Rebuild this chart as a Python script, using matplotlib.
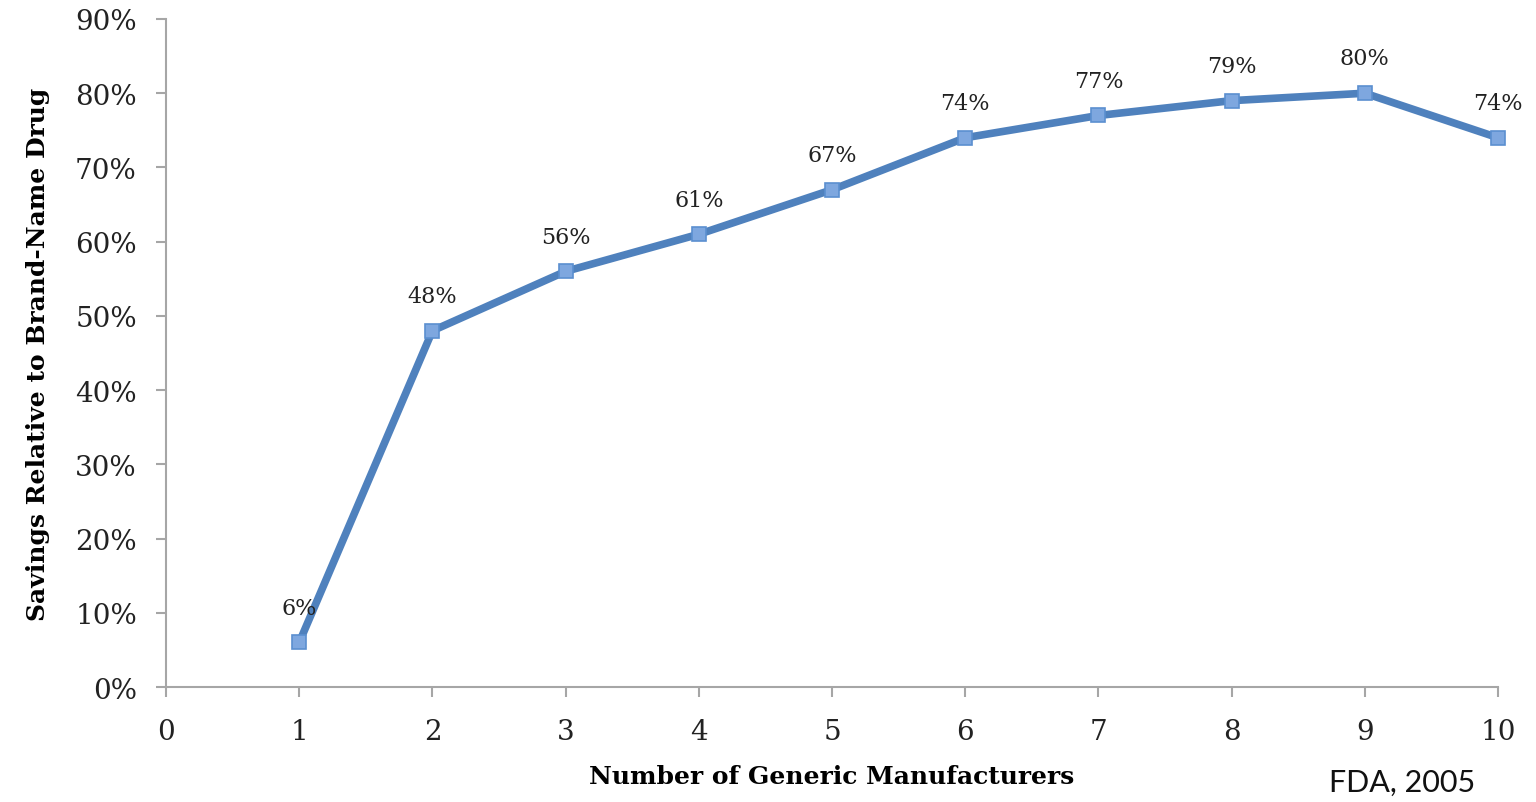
import matplotlib
matplotlib.use("Agg")
import matplotlib.pyplot as plt
from matplotlib.ticker import FuncFormatter

# savings vs number of generic makers (FDA, 2005)
manufacturers = [1, 2, 3, 4, 5, 6, 7, 8, 9, 10]
savings = [6, 48, 56, 61, 67, 74, 77, 79, 80, 74]
source_note = "FDA, 2005"

plt.rcParams['font.family'] = ['DejaVu Serif']

fig = plt.figure(figsize=(15.36, 8.03), dpi=100)
ax = fig.add_axes([0.1081, 0.1432, 0.8672, 0.8319])

line_col = '#4F81BD'
ax.plot(manufacturers, savings, color=line_col, lw=5.5, marker='s', ms=10,
        mfc='#7EA7DF', mec='#5B8FD0', mew=1.2, solid_joinstyle='round', zorder=3,
        clip_on=False)

for x, y in zip(manufacturers, savings):
    ax.annotate(f"{y}%", (x, y), xytext=(0, 25), textcoords='offset points',
                ha='center', va='center', fontsize=16, color='#222222')

ax.set_xlim(0, 10)
ax.set_ylim(0, 90)
ax.set_xticks(range(0, 11))
ax.set_yticks(range(0, 91, 10))
ax.yaxis.set_major_formatter(FuncFormatter(lambda v, p: f"{int(v)}%"))

for side in ['top', 'right']:
    ax.spines[side].set_visible(False)
for side in ['left', 'bottom']:
    ax.spines[side].set_color('#A6A6A6')
    ax.spines[side].set_linewidth(1.5)
ax.tick_params(axis='both', colors='#A6A6A6', width=1.5, length=7,
               labelsize=20, labelcolor='#222222')
ax.tick_params(axis='x', pad=15)
ax.tick_params(axis='y', pad=14)

ax.set_xlabel("Number of Generic Manufacturers", fontsize=18, fontweight='bold',
              labelpad=14)
ax.set_ylabel("Savings Relative to Brand-Name Drug", fontsize=18, fontweight='bold',
              labelpad=18)

fig.text(0.8652, 0.008, source_note, fontsize=22, family=['Lato', 'DejaVu Sans'],
         ha='left', va='bottom', color='#111111')

fig.savefig("out.png", dpi=100)
